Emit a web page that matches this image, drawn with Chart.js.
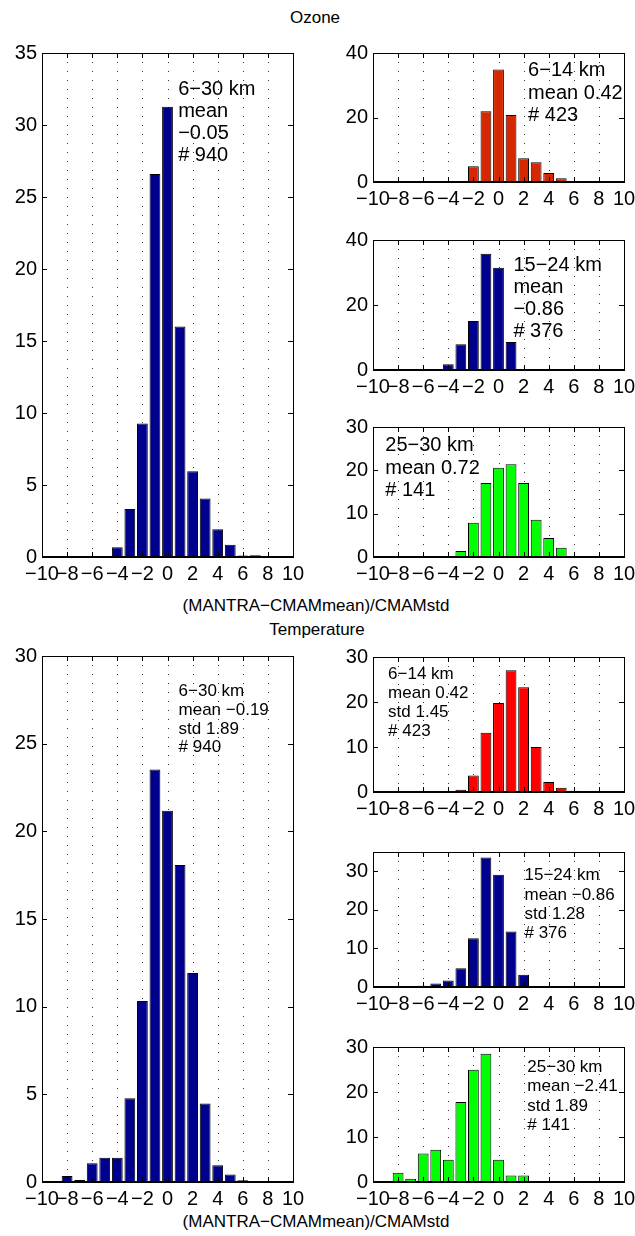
<!DOCTYPE html>
<html>
<head>
<meta charset="utf-8">
<title>MANTRA vs CMAM histograms</title>
<style>
	html, body {
		margin: 0;
		padding: 0;
		background: #fff;
	}
	body {
		position: relative;
		width: 635px;
		height: 1236px;
		overflow: hidden;
		font-family: "Liberation Sans", Arial, Helvetica, sans-serif;
	}
	canvas {
		position: absolute;
	}
	.lbl {
		position: absolute;
		font-size: 17px;
		line-height: 20px;
		height: 20px;
		white-space: nowrap;
		transform: translateX(-50%);
		color: #000;
	}
</style>
</head>
<body>

<div class="lbl" style="left:315px; top:8px;">Ozone</div>
<div class="lbl" style="left:316px; top:596px;">(MANTRA−CMAMmean)/CMAMstd</div>
<div class="lbl" style="left:317px; top:620px;">Temperature</div>
<div class="lbl" style="left:316px; top:1212px;">(MANTRA−CMAMmean)/CMAMstd</div>

<canvas id="o3all"></canvas>
<canvas id="o3low"></canvas>
<canvas id="o3mid"></canvas>
<canvas id="o3high"></canvas>
<canvas id="tall"></canvas>
<canvas id="tlow"></canvas>
<canvas id="tmid"></canvas>
<canvas id="thigh"></canvas>

<script src="https://cdn.jsdelivr.net/npm/chart.js@4.4.1/dist/chart.umd.min.js"></script>
<script>
// bin centres of the histograms
const bins = [-10, -9, -8, -7, -6, -5, -4, -3, -2, -1, 0, 1, 2, 3, 4, 5, 6, 7, 8, 9, 10];

// percentages per bin
const o3All  = [0, 0, 0, 0, 0, 0, 0.67, 3.33, 9.27, 26.6, 31.27, 16.0, 5.96, 4.06, 1.93, 0.85, 0.1, 0.12, 0, 0, 0];
const o3Low  = [0, 0, 0, 0, 0, 0, 0, 0, 4.9, 21.9, 34.9, 20.8, 7.4, 6.1, 2.8, 1.2, 0.3, 0.3, 0, 0, 0];
const o3Mid  = [0, 0, 0, 0, 0, 0, 1.8, 7.9, 15.1, 35.8, 31.5, 8.6, 0.3, 0, 0, 0, 0, 0, 0, 0, 0];
const o3High = [0, 0, 0, 0, 0, 0, 0, 1.4, 7.9, 17.1, 20.6, 21.4, 17.1, 8.6, 4.4, 2.15, 0, 0, 0, 0, 0];
const tAll   = [0, 0, 0.34, 0.11, 1.07, 1.39, 1.39, 4.78, 10.32, 23.52, 21.17, 18.08, 11.92, 4.48, 0.96, 0.43, 0.1, 0, 0, 0, 0];
const tLow   = [0, 0, 0, 0, 0, 0, 0, 0.5, 3.64, 13.14, 19.8, 27.07, 23.3, 10.0, 2.2, 0.93, 0.3, 0, 0, 0, 0];
const tMid   = [0, 0, 0, 0, 0.33, 0.9, 1.67, 4.83, 12.67, 33.58, 29.08, 14.42, 3.17, 0, 0, 0, 0, 0, 0, 0, 0];
const tHigh  = [0, 0, 2.07, 0.71, 6.36, 7.14, 4.93, 17.79, 24.93, 28.5, 4.93, 1.43, 1.43, 0, 0, 0, 0, 0, 0, 0, 0];

// text inside each panel
const o3AllText  = ["6−30 km", "mean", "−0.05", "# 940"];
const o3LowText  = ["6−14 km", "mean 0.42", "# 423"];
const o3MidText  = ["15−24 km", "mean", "−0.86", "# 376"];
const o3HighText = ["25−30 km", "mean 0.72", "# 141"];
const tAllText   = ["6−30 km", "mean −0.19", "std 1.89", "# 940"];
const tLowText   = ["6−14 km", "mean 0.42", "std 1.45", "# 423"];
const tMidText   = ["15−24 km", "mean −0.86", "std 1.28", "# 376"];
const tHighText  = ["25−30 km", "mean −2.41", "std 1.89", "# 141"];

const NAVY = '#00008f';
const FONT = '"Liberation Sans", Arial, Helvetica, sans-serif';

// frame, dotted x grid, inward ticks and the panel text
const frame = {
	id: 'frame',
	beforeDatasetsDraw(chart) {
		const {ctx, chartArea: a, scales: {x}} = chart;
		ctx.save();
		ctx.strokeStyle = '#333';
		ctx.lineWidth = 1;
		ctx.setLineDash([1, 8]);
		x.ticks.forEach(t => {
			if (t.value <= x.min || t.value >= x.max) return;
			const px = Math.round(x.getPixelForValue(t.value)) + 0.5;
			ctx.beginPath();
			ctx.moveTo(px, a.top);
			ctx.lineTo(px, a.bottom);
			ctx.stroke();
		});
		ctx.restore();
	},
	afterDatasetsDraw(chart, args, opts) {
		const {ctx, chartArea: a, scales: {x, y}} = chart;
		ctx.save();
		ctx.strokeStyle = '#000';
		ctx.lineWidth = 1;
		ctx.strokeRect(Math.round(a.left) + 0.5, Math.round(a.top) + 0.5,
			Math.round(a.right - a.left), Math.round(a.bottom - a.top));
		ctx.lineWidth = 2;
		ctx.beginPath();
		ctx.moveTo(a.left, Math.round(a.bottom));
		ctx.lineTo(a.right, Math.round(a.bottom));
		ctx.stroke();
		ctx.lineWidth = 1;
		const tl = 5;
		ctx.beginPath();
		x.ticks.forEach(t => {
			const px = Math.round(x.getPixelForValue(t.value)) + 0.5;
			ctx.moveTo(px, a.top); ctx.lineTo(px, a.top + tl);
			ctx.moveTo(px, a.bottom); ctx.lineTo(px, a.bottom - tl);
		});
		y.ticks.forEach(t => {
			if (t.label === '') return;
			const py = Math.round(y.getPixelForValue(t.value)) + 0.5;
			ctx.moveTo(a.left, py); ctx.lineTo(a.left + tl, py);
			ctx.moveTo(a.right, py); ctx.lineTo(a.right - tl, py);
		});
		ctx.stroke();

		if (opts.lines) {
			ctx.fillStyle = '#000';
			ctx.font = opts.size + 'px ' + FONT;
			ctx.textBaseline = 'middle';
			ctx.textAlign = 'left';
			const tx = x.getPixelForValue(opts.tx);
			const ty = y.getPixelForValue(opts.ty);
			opts.lines.forEach((s, i) => ctx.fillText(s, tx, ty + i * opts.lh));
		}
		ctx.restore();
	}
};

const minus = v => v < 0 ? '\u2212' + Math.abs(v) : String(v);

function panel(id, box, values, color, ymax, ystep, text, note) {
	const padL = 45, padT = 12, padR = 18, padB = 28;
	const el = document.getElementById(id);
	el.width = box.w + padL + padR;
	el.height = box.h + padT + padB;
	el.style.left = (box.x - padL) + 'px';
	el.style.top = (box.y - padT) + 'px';
	new Chart(el, {
		type: 'bar',
		data: {
			datasets: [{
				data: bins.map((b, i) => ({x: b, y: values[i]})),
				backgroundColor: color,
				borderColor: '#000',
				borderWidth: 1,
				borderSkipped: false,
				barPercentage: 0.86,
				categoryPercentage: 1
			}]
		},
		options: {
			responsive: false,
			animation: false,
			devicePixelRatio: 1,
			layout: {padding: {left: 0, top: padT, right: padR, bottom: 0}},
			plugins: {
				legend: {display: false},
				tooltip: {enabled: false},
				frame: {lines: text, tx: note.x, ty: note.y, lh: note.lh, size: note.size}
			},
			scales: {
				x: {
					type: 'linear',
					min: -10,
					max: 10,
					offset: false,
					grid: {display: false, drawTicks: false},
					border: {display: false},
					afterFit: s => { s.height = padB; },
					ticks: {
						stepSize: 2,
						autoSkip: false,
						maxRotation: 0,
						padding: 5,
						color: '#000',
						font: {family: FONT, size: 20},
						callback: minus
					}
				},
				y: {
					min: 0,
					max: ymax,
					grid: {display: false, drawTicks: false},
					border: {display: false},
					afterFit: s => { s.width = padL; },
					ticks: {
						stepSize: ystep,
						includeBounds: false,
						padding: 5,
						color: '#000',
						font: {family: FONT, size: 20},
						callback: v => (v % ystep === 0 ? String(v) : '')
					}
				}
			}
		},
		plugins: [frame]
	});
}

const LEFT = 42, RIGHT = 373, W = 251;

panel('o3all',  {x: LEFT,  y: 48,   w: W, h: 509}, o3All,  NAVY,      35, 5,  o3AllText,  {x: 0.85,  y: 32.45, lh: 22,   size: 20});
panel('o3low',  {x: RIGHT, y: 48,   w: W, h: 134}, o3Low,  '#d62800', 40, 20, o3LowText,  {x: 2.36,  y: 34.5,  lh: 22.6, size: 20});
panel('o3mid',  {x: RIGHT, y: 235,  w: W, h: 135}, o3Mid,  NAVY,      40, 20, o3MidText,  {x: 1.19,  y: 32.1,  lh: 22,   size: 20});
panel('o3high', {x: RIGHT, y: 422,  w: W, h: 135}, o3High, '#00ff00', 30, 10, o3HighText, {x: -9.02, y: 25.7,  lh: 22.5, size: 20});
panel('tall',   {x: LEFT,  y: 651,  w: W, h: 531}, tAll,   NAVY,      30, 5,  tAllText,   {x: 0.88,  y: 27.98, lh: 18.7, size: 17});
panel('tlow',   {x: RIGHT, y: 652,  w: W, h: 140}, tLow,   '#ff0000', 30, 10, tLowText,   {x: -8.8,  y: 26.2,  lh: 19,   size: 17});
panel('tmid',   {x: RIGHT, y: 847,  w: W, h: 140}, tMid,   NAVY,      35, 10, tMidText,   {x: 2.07,  y: 28.9,  lh: 19.4, size: 17});
panel('thigh',  {x: RIGHT, y: 1042, w: W, h: 140}, tHigh,  '#00ff00', 30, 10, tHighText,  {x: 2.3,   y: 25.4,  lh: 19.1, size: 17});
</script>
</body>
</html>
